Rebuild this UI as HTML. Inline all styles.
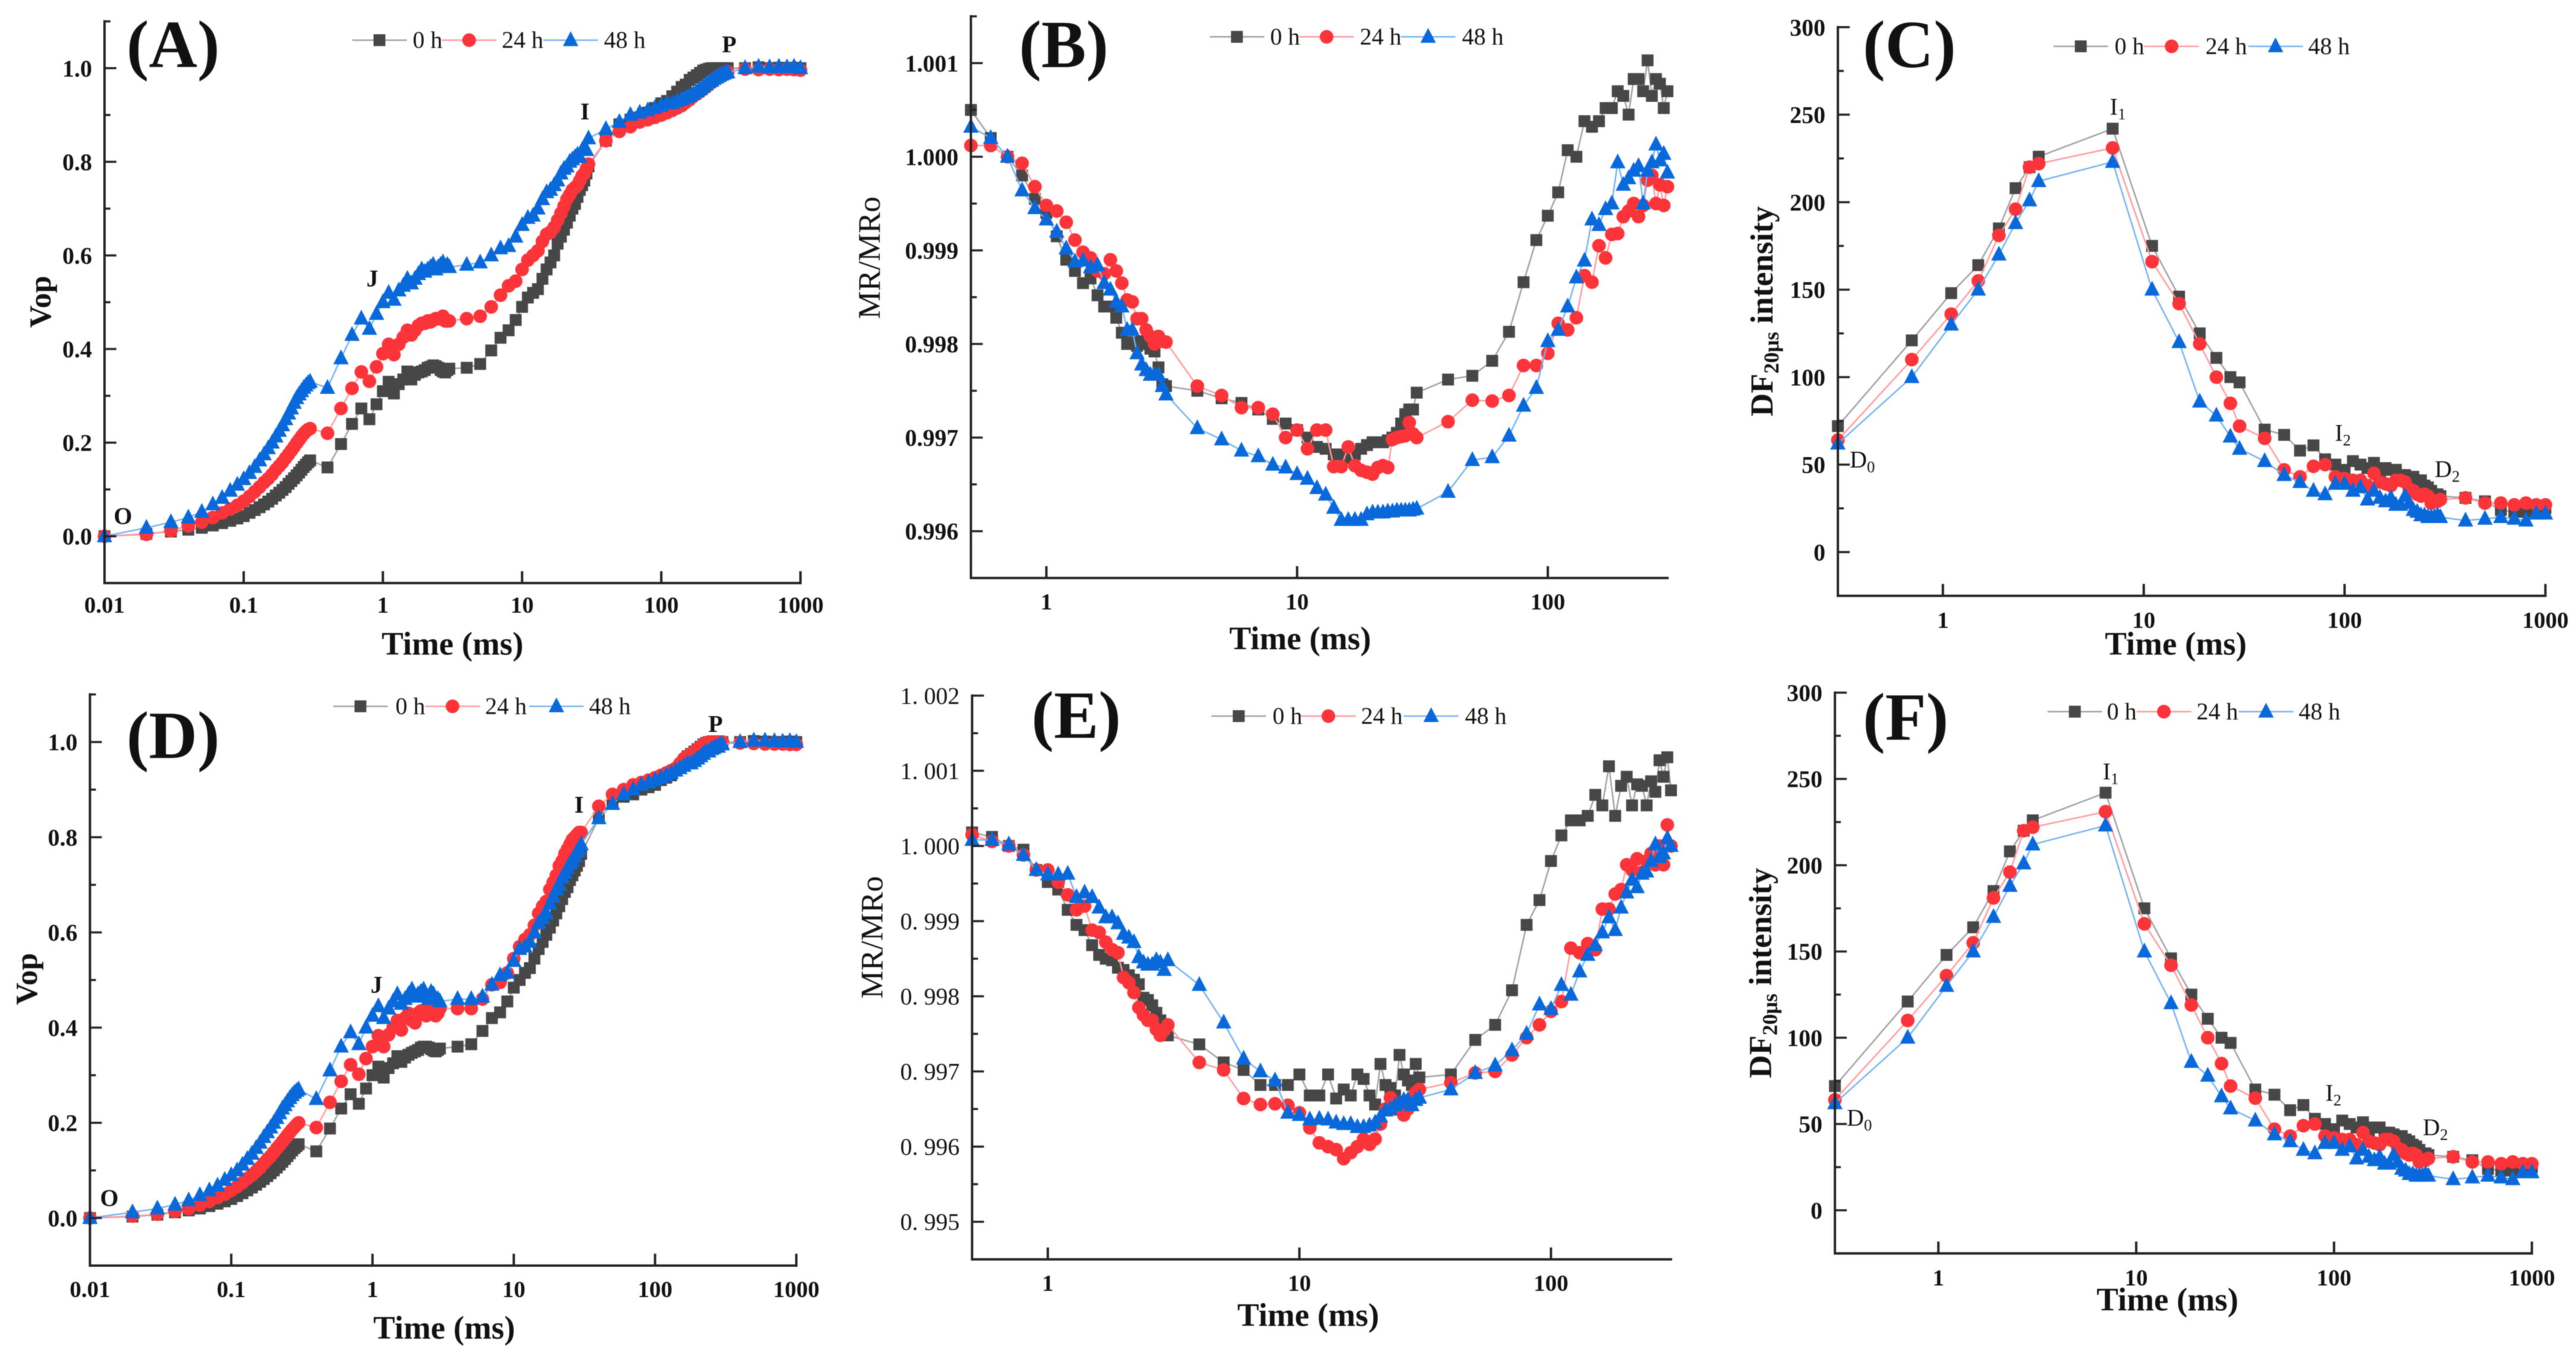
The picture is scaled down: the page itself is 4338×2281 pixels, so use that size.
<!DOCTYPE html>
<html lang="en">
<head>
<meta charset="utf-8">
<title>Six-panel chlorophyll fluorescence chart</title>
<style>
html,body{margin:0;padding:0;background:#fff;width:4338px;height:2281px;overflow:hidden}
svg{display:block;filter:blur(0.8px)}
text{font-family:"Liberation Serif","Times New Roman",serif;fill:#111}
</style>
</head>
<body>
<svg id="chart" xmlns="http://www.w3.org/2000/svg" width="4338" height="2281" viewBox="0 0 4338 2281"></svg>
<script>
/* ---------- shared time categories (ms) ---------- */
const timeOjip = [0.01,0.02,0.03,0.04,0.05,0.06,0.07,0.08,0.09,0.1,0.11,0.12,0.13,0.14,0.15,0.16,0.17,0.18,0.19,0.2,0.21,0.22,0.23,0.24,0.25,0.26,0.27,0.28,0.29,0.3,
0.4,0.5,0.6,0.7,0.8,0.9,1,1.1,1.2,1.3,1.4,1.5,1.6,1.7,1.8,1.9,2,2.1,2.2,2.3,2.4,2.5,2.6,2.7,2.8,2.9,3,
4,5,6,7,8,9,10,11,12,13,14,15,16,17,18,19,20,21,22,23,24,25,26,27,28,29,30,
40,50,60,70,80,90,100,110,120,130,140,150,160,170,180,190,200,210,220,230,240,250,260,270,280,290,300,
400,500,600,700,800,900,1000];
const timeMr = [0.5,0.6,0.7,0.8,0.9,1,1.1,1.2,1.3,1.4,1.5,1.6,1.7,1.8,1.9,2,2.1,2.2,2.3,2.4,2.5,2.6,2.7,2.8,2.9,3,
4,5,6,7,8,9,10,11,12,13,14,15,16,17,18,19,20,21,22,23,24,25,26,27,28,29,30,
40,50,60,70,80,90,100,110,120,130,140,150,160,170,180,190,200,210,220,230,240,250,260,270,280,290,300];
const timeDf = [0.3,0.7,1.1,1.5,1.9,2.3,2.7,3,7,11,15,19,23,27,30,40,50,60,70,80,90,100,110,120,130,140,150,160,170,180,190,200,210,220,230,240,250,260,270,280,290,300,400,500,600,700,800,900,1000];

/* ---------- panel A: Vop ---------- */
const vopA0 = [0,.005,.01,.014,.018,.023,.028,.033,.038,.043,.05,.056,.062,.068,.074,.08,.087,.093,.099,.105,.112,.118,.124,.13,.136,.142,.148,.153,.158,.162,
.147,.197,.24,.273,.25,.282,.31,.33,.305,.325,.335,.352,.335,.345,.35,.352,.355,.36,.362,.365,.363,.36,.355,.352,.35,.355,.358,
.36,.368,.397,.424,.44,.462,.49,.51,.52,.528,.55,.57,.585,.6,.625,.64,.655,.67,.685,.7,.71,.725,.74,.75,.76,.775,.79,
.845,.88,.89,.895,.905,.915,.925,.93,.94,.95,.96,.965,.975,.98,.985,.99,.995,.997,.999,1,1,1,1,1,1,1,1,
1,1.002,1,1.001,1,1.001,1];
const vopA24 = [0,.004,.012,.022,.03,.04,.05,.058,.066,.075,.085,.095,.105,.115,.123,.132,.142,.15,.158,.167,.175,.183,.191,.199,.206,.213,.219,.224,.228,.23,
.22,.273,.316,.351,.331,.362,.39,.41,.388,.41,.425,.44,.43,.44,.45,.455,.455,.46,.458,.462,.465,.465,.465,.47,.46,.46,.46,
.465,.47,.49,.515,.535,.545,.57,.59,.6,.61,.63,.645,.65,.66,.675,.69,.705,.72,.73,.74,.745,.75,.76,.77,.775,.785,.795,
.845,.865,.875,.885,.89,.895,.9,.905,.91,.915,.92,.927,.933,.94,.945,.95,.955,.96,.965,.97,.975,.98,.983,.986,.988,.99,.992,
.998,.997,.998,.997,.998,.997,.996];
const vopA48 = [0,.018,.03,.04,.052,.068,.082,.097,.11,.122,.135,.148,.162,.175,.188,.2,.213,.225,.237,.25,.262,.273,.285,.295,.303,.31,.317,.322,.327,.33,
.317,.38,.43,.465,.443,.475,.5,.52,.505,.525,.535,.55,.54,.55,.56,.57,.565,.57,.575,.58,.57,.575,.58,.585,.575,.58,.575,
.58,.585,.6,.615,.62,.64,.665,.68,.685,.7,.72,.735,.74,.75,.76,.775,.785,.79,.8,.805,.81,.815,.81,.825,.83,.825,.85,
.87,.885,.9,.905,.91,.915,.92,.925,.925,.93,.933,.937,.94,.945,.95,.955,.96,.965,.97,.973,.977,.98,.983,.986,.988,.99,.991,
1,1.003,1.002,1.003,1.002,1.003,1];

/* ---------- panel D: Vop ---------- */
const vopD0 = [0,.003,.007,.012,.016,.02,.025,.03,.035,.04,.046,.052,.058,.064,.07,.076,.082,.088,.094,.1,.106,.112,.118,.124,.13,.136,.142,.147,.151,.155,
.14,.188,.23,.26,.24,.272,.3,.318,.295,.315,.325,.34,.328,.337,.343,.347,.35,.353,.358,.36,.36,.358,.355,.352,.35,.353,.356,
.36,.365,.393,.42,.432,.455,.484,.5,.515,.525,.545,.565,.58,.595,.61,.625,.64,.655,.67,.685,.695,.71,.72,.73,.74,.75,.765,
.84,.87,.885,.89,.9,.905,.91,.92,.925,.93,.94,.95,.96,.97,.975,.98,.985,.99,.995,.998,1,1,1,1,1,1,1,
1,1.002,1.001,1,1,1.001,1];
const vopD24 = [0,.004,.008,.014,.02,.027,.035,.043,.05,.058,.066,.074,.083,.09,.098,.106,.115,.123,.13,.138,.146,.153,.16,.167,.174,.18,.186,.191,.196,.2,
.19,.243,.287,.322,.302,.335,.36,.383,.36,.385,.4,.415,.395,.42,.43,.415,.41,.43,.435,.435,.425,.43,.435,.43,.425,.43,.44,
.44,.44,.46,.49,.495,.515,.545,.57,.585,.595,.615,.64,.655,.665,.69,.705,.72,.74,.75,.765,.775,.785,.795,.8,.805,.81,.81,
.865,.89,.9,.91,.915,.92,.925,.93,.935,.94,.945,.955,.965,.97,.975,.98,.985,.99,.995,.998,1,1,1,1,1,1,1,
.998,.997,.996,.996,.996,.995,.995];
const vopD48 = [0,.012,.02,.028,.037,.048,.058,.068,.08,.09,.1,.112,.124,.135,.147,.158,.17,.18,.19,.2,.21,.22,.23,.237,.245,.252,.258,.263,.267,.27,
.25,.31,.36,.39,.365,.4,.425,.445,.42,.44,.455,.47,.45,.46,.47,.48,.465,.47,.475,.48,.465,.46,.475,.47,.46,.46,.455,
.46,.46,.465,.49,.51,.515,.54,.565,.57,.58,.6,.62,.63,.64,.66,.675,.69,.7,.715,.725,.735,.745,.75,.76,.77,.775,.785,
.84,.87,.89,.9,.91,.915,.92,.925,.93,.935,.94,.945,.95,.955,.955,.96,.965,.97,.975,.98,.98,.985,.987,.99,.99,.995,.995,
1,1.003,1.003,1.002,1.001,1.002,1];

/* ---------- panel B: MR/MRo ---------- */
const mrB0 = [1.0005,1.0002,1,.9998,.99955,.9994,.99915,.9989,.99878,.99865,.9987,.99852,.9984,.9984,.99828,.99812,.998,.99802,.99798,.99803,.998,.99795,.99792,.99775,.99757,.99755,
.9975,.99742,.99737,.9973,.9972,.99715,.99708,.997,.9969,.99688,.99682,.99682,.99678,.99682,.99688,.99692,.99695,.99695,.99695,.99697,.997,.99705,.99715,.99725,.9973,.9973,.99748,
.99762,.99766,.99782,.99813,.99866,.99911,.99937,.99962,1.00007,1,1.00038,1.00032,1.00038,1.00052,1.00052,1.0007,1.00065,1.00045,1.00083,1.00083,1.0007,1.00103,1.00065,1.00083,1.00078,1.00052,1.0007];
const mrB24 = [1.00012,1.00012,1,.99993,.99968,.99948,.99942,.9993,.99911,.99898,.99892,.99878,.99875,.9989,.99878,.99865,.99847,.99845,.99827,.99827,.99815,.99808,.998,.99808,.99803,.99802,
.99755,.99745,.99732,.99732,.99725,.997,.99708,.99688,.99708,.99708,.99669,.99669,.9969,.9967,.99665,.99663,.99661,.99668,.9967,.99668,.99698,.997,.99701,.99702,.99716,.99704,.997,
.99717,.9974,.99739,.99745,.99777,.99777,.9979,.99822,.99815,.99828,.99873,.99866,.99905,.99892,.99917,.99918,.99936,.99942,.9995,.99936,.99948,.99975,.9998,.9995,.9997,.99948,.99968];
const mrB48 = [1.00032,1.0002,1,.99964,.99945,.99933,.9992,.99902,.99888,.99889,.99882,.99884,.99865,.99858,.99845,.9984,.99815,.99815,.9979,.99778,.99772,.99767,.99767,.99767,.99755,.99746,
.9971,.99698,.99686,.9968,.99671,.99668,.99661,.99656,.99646,.99639,.99625,.99612,.99612,.99612,.99612,.99618,.9962,.9962,.9962,.99621,.99621,.99622,.99622,.99622,.99622,.99623,.99624,
.99642,.99676,.99679,.99702,.99734,.99753,.99803,.99815,.9984,.99871,.99889,.99933,.99927,.99944,.9995,.99994,.9997,.99977,.99985,.9999,.9995,.99985,.99994,1.00013,.99996,1.00003,.99983];

/* ---------- panel E: MR/MRo ---------- */
const mrE0 = [1.00018,1.00012,1,.99995,.99968,.99952,.99942,.99915,.99895,.99888,.99868,.99855,.9985,.99848,.99838,.99835,.99828,.99822,.99816,.99798,.99795,.99788,.99778,.99768,.99758,.99748,
.99736,.99712,.99702,.99682,.99682,.99682,.99696,.99668,.99668,.99696,.99664,.99676,.99668,.99696,.9969,.99668,.99656,.9971,.99682,.99678,.99668,.99722,.99696,.99688,.99682,.9971,.99692,
.99696,.99742,.99762,.99808,.99895,.99928,.9998,1.00014,1.00034,1.00034,1.0004,1.00068,1.00054,1.00106,1.0004,1.0008,1.00092,1.00054,1.00082,1.0008,1.00054,1.00086,1.00072,1.00114,1.00092,1.00118,1.00074];
const mrE24 = [1.00015,1.00006,1,.99988,.99968,.99968,.99952,.99935,.99915,.9992,.99888,.99885,.99872,.99862,.99858,.99825,.99818,.99805,.99785,.99775,.99768,.99768,.99756,.99748,.99755,.99762,
.99712,.99702,.99664,.99656,.99657,.99655,.99645,.99625,.99605,.996,.99596,.99584,.99592,.996,.9961,.99603,.9961,.9963,.9965,.99665,.9965,.9965,.99642,.9965,.99665,.99672,.99676,
.99685,.99698,.997,.99722,.99745,.99762,.9978,.99793,.99864,.99858,.9987,.99862,.99916,.99916,.99936,.99942,.99975,.99968,.99983,.99965,.9998,.9999,.99975,1,.99975,1.00028,1];
const mrE48 = [1.00008,1.00008,1.00002,.99988,.99968,.99962,.99962,.99963,.99932,.99938,.99932,.99918,.99905,.99905,.99897,.99883,.99878,.99872,.99852,.99845,.99842,.99842,.99848,.99845,.99835,.99848,
.99815,.99765,.99717,.997,.99688,.99645,.99642,.99636,.99637,.99636,.99632,.9963,.9963,.99626,.99626,.99628,.99632,.9964,.99648,.9965,.99655,.99658,.99662,.99662,.99655,.99662,.99665,
.99676,.99698,.99708,.99728,.9975,.99789,.99783,.99815,.99802,.99833,.99855,.99868,.99885,.99905,.99888,.99918,.99938,.99955,.99945,.99963,.99966,.9998,1.00002,.99985,.9999,1.0001,1];

/* ---------- panels C and F: DF intensity ---------- */
const dfC0 = [72,121,148,164,185,208,220,226,242,175,146,125,111,100,97,70,67,58,61,53,50,47,52,50,48,51,46,48,47,47,44,44,43,43,41,41,38,37,35,33,33,32,31,29,24,23,23,24,25];
const dfC24 = [64,110,136,155,181,196,220,222,231,166,142,119,100,85,72,65,47,43,49,50,43,42,41,41,38,45,40,39,38,41,41,40,36,35,33,32,33,32,28,29,29,30,31,28,28,27,28,27,27];
const dfC48 = [62,100,130,150,170,188,201,212,223,150,120,86,78,66,59,52,44,40,35,33,39,39,35,37,30,35,31,29,31,27,27,32,28,24,23,21,21,20,20,20,21,20,18,19,20,19,18,22,22];
const dfF0 = [72,121,148,164,185,208,220,226,242,175,146,125,111,100,97,70,67,58,61,53,50,47,52,50,48,51,46,48,48,45,45,44,43,43,41,40,38,37,35,33,33,32,31,29,24,23,23,24,25];
const dfF24 = [64,110,136,155,181,196,220,222,231,166,142,119,100,85,72,65,47,43,49,50,43,42,41,41,38,45,40,39,38,41,41,40,36,35,33,32,33,32,28,29,29,30,31,28,28,27,28,27,27];
const dfF48 = [62,100,130,150,170,188,201,212,223,150,120,86,78,66,59,52,44,40,35,33,39,39,35,37,30,35,31,29,31,27,27,32,28,24,23,21,21,20,20,20,21,20,18,19,20,19,18,22,22];

/* ---------- tick labels and legend labels ---------- */
const ticksVopX = [0.01,0.1,1,10,100,1000];
const ticksMrX = [1,10,100];
const ticksDfX = [1,10,100,1000];
const ticksVopY = ["0.0","0.2","0.4","0.6","0.8","1.0"];
const ticksMrBY = ["0.996","0.997","0.998","0.999","1.000","1.001"];
const ticksMrEY = ["0. 995","0. 996","0. 997","0. 998","0. 999","1. 000","1. 001","1. 002"];
const ticksDfY = ["0","50","100","150","200","250","300"];
const seriesLabels = ["0 h","24 h","48 h"];

/* ---------- styling ---------- */
const NS = "http://www.w3.org/2000/svg";
const svg = document.getElementById("chart");
const markerColors = ["#474747","#fb3439","#0a69da"];
const lineColors = ["#a0a0a0","#ff9a9c","#74b2f0"];
const seriesKeys = ["0h","24h","48h"];

const panels = [
 {id:"a",letter:"(A)",lx:213,ly:113,
  left:176,right:1348,top:36,bottom:981.5,xMin:0.01,xMax:1000,yMin:-0.1,yMax:1.1,
  time:timeOjip,series:[vopA0,vopA24,vopA48],xTicks:ticksVopX,yTicks:ticksVopY,
  minorStep:0.1,xTickDy:50,bold:true,
  xTitleX:762,xTitleY:1102,yTitle:"Vop",yTitleX:85,yTitleY:508,yTitleBold:true,yTitleSize:52,
  legX:[639,790,961],legTx:[695,845,1017],legY:67.6,endTick:true,
  notes:[["O",207,882],["J",627,482],["I",985,201],["P",1228,88]],noteBold:true},
 {id:"b",letter:"(B)",lx:1716,ly:113,
  left:1635,right:2808,top:27.5,bottom:973,xMin:0.5,xMax:300,yMin:0.9955,yMax:1.0015,
  time:timeMr,series:[mrB0,mrB24,mrB48],xTicks:ticksMrX,yTicks:ticksMrBY,
  minorStep:0.0005,xTickDy:53,bold:true,
  xTitleX:2189.5,xTitleY:1093,yTitle:"MR/MRo",yTitleX:1481.5,yTitleY:434,yTitleBold:false,yTitleSize:53,
  legX:[2083,2234,2405],legTx:[2139,2290,2462],legY:62,endTick:false,notes:[],noteBold:true},
 {id:"c",letter:"(C)",lx:3137,ly:113,
  left:3095,right:4286.5,top:45.8,bottom:1003,xMin:0.3,xMax:1000,yMin:-25,yMax:300,
  time:timeDf,series:[dfC0,dfC24,dfC48],xTicks:ticksDfX,yTicks:ticksDfY,
  minorStep:25,xTickDy:54,bold:true,
  xTitleX:3664,xTitleY:1102,yTitle:"DF",yTitleX:2985,yTitleY:524,yTitleBold:true,yTitleSize:54,df:true,
  legX:[3504,3657,3832],legTx:[3561,3714,3887],legY:78,endTick:true,
  notes:[["I",3553,193,"1"],["I",3932,742,"2"],["D",3115,787,"0"],["D",4100,803,"2"]],noteBold:false},
 {id:"d",letter:"(D)",lx:213,ly:1276,
  left:151.5,right:1341,top:1169,bottom:2130.5,xMin:0.01,xMax:1000,yMin:-0.1,yMax:1.1,
  time:timeOjip,series:[vopD0,vopD24,vopD48],xTicks:ticksVopX,yTicks:ticksVopY,
  minorStep:0.1,xTickDy:53,bold:true,
  xTitleX:748,xTitleY:2253.5,yTitle:"Vop",yTitleX:62,yTitleY:1648,yTitleBold:true,yTitleSize:52,
  legX:[607,762,937],legTx:[666,817,992],legY:1189,endTick:true,
  notes:[["O",184,2030],["J",634,1671],["I",975,1368],["P",1205,1232]],noteBold:true},
 {id:"e",letter:"(E)",lx:1737,ly:1242,
  left:1637,right:2814,top:1171,bottom:2120,xMin:0.5,xMax:300,yMin:0.9945,yMax:1.002,
  time:timeMr,series:[mrE0,mrE24,mrE48],xTicks:ticksMrX,yTicks:ticksMrEY,
  minorStep:0.0005,xTickDy:53,bold:false,
  xTitleX:2203,xTitleY:2232,yTitle:"MR/MRo",yTitleX:1486,yTitleY:1578,yTitleBold:false,yTitleSize:53,
  legX:[2086,2237,2410],legTx:[2143,2292,2467],legY:1205.5,endTick:false,notes:[],noteBold:true},
 {id:"f",letter:"(F)",lx:3137,ly:1245,
  left:3090,right:4263.7,top:1166,bottom:2110,xMin:0.3,xMax:1000,yMin:-25,yMax:300,
  time:timeDf,series:[dfF0,dfF24,dfF48],xTicks:ticksDfX,yTicks:ticksDfY,
  minorStep:25,xTickDy:54,bold:true,
  xTitleX:3650,xTitleY:2206,yTitle:"DF",yTitleX:2982.6,yTitleY:1638,yTitleBold:true,yTitleSize:54,df:true,
  legX:[3494,3644,3816],legTx:[3548,3699,3871],legY:1198,endTick:true,
  notes:[["I",3541,1312,"1"],["I",3916,1853,"2"],["D",3110,1895,"0"],["D",4080,1911,"2"]],noteBold:false}
];

function xScale(p, v) {
  const a = Math.log10(p.xMin), b = Math.log10(p.xMax);
  return p.left + (Math.log10(v) - a) / (b - a) * (p.right - p.left);
}
function yScale(p, v) {
  return p.bottom - (v - p.yMin) / (p.yMax - p.yMin) * (p.bottom - p.top);
}
function addLine(parent, x1, y1, x2, y2, color, width) {
  const l = document.createElementNS(NS, "line");
  l.setAttribute("x1", x1);
  l.setAttribute("y1", y1);
  l.setAttribute("x2", x2);
  l.setAttribute("y2", y2);
  l.setAttribute("stroke", color);
  l.setAttribute("stroke-width", width);
  parent.appendChild(l);
  return l;
}
function addText(parent, str, x, y, size, weight, anchor) {
  const t = document.createElementNS(NS, "text");
  t.setAttribute("x", x);
  t.setAttribute("y", y);
  t.setAttribute("font-size", size);
  t.setAttribute("font-weight", weight);
  t.setAttribute("text-anchor", anchor);
  t.textContent = str;
  parent.appendChild(t);
  return t;
}
function addMarker(parent, s, x, y) {
  let m;
  if (s === 0) {
    m = document.createElementNS(NS, "rect");
    m.setAttribute("x", x - 10);
    m.setAttribute("y", y - 10);
    m.setAttribute("width", 20);
    m.setAttribute("height", 20);
  } else if (s === 1) {
    m = document.createElementNS(NS, "circle");
    m.setAttribute("cx", x);
    m.setAttribute("cy", y);
    m.setAttribute("r", 11.5);
  } else {
    m = document.createElementNS(NS, "polygon");
    m.setAttribute("points", x + "," + (y - 15) + " " + (x + 13) + "," + (y + 10) + " " + (x - 13) + "," + (y + 10));
  }
  m.setAttribute("fill", markerColors[s]);
  parent.appendChild(m);
  return m;
}

panels.forEach(function (p) {
  const g = document.createElementNS(NS, "g");
  
  
  svg.appendChild(g);

  /* series */
  p.series.forEach(function (vals, s) {
    const sg = document.createElementNS(NS, "g");
    
    
    g.appendChild(sg);
    const n = Math.min(vals.length, p.time.length);
    let pts = "";
    for (let i = 0; i < n; i++) {
      pts += xScale(p, p.time[i]).toFixed(1) + "," + yScale(p, vals[i]).toFixed(1) + " ";
    }
    const line = document.createElementNS(NS, "polyline");
    
    
    line.setAttribute("points", pts);
    line.setAttribute("fill", "none");
    line.setAttribute("stroke", lineColors[s]);
    line.setAttribute("stroke-width", 2.5);
    sg.appendChild(line);
    for (let i = 0; i < n; i++) {
      const mk = addMarker(sg, s, xScale(p, p.time[i]), yScale(p, vals[i]));
      
      
    }
  });

  /* axes */
  const yAxis = addLine(g, p.left, p.top - 2, p.left, p.bottom + 2, "#222", 4);
  
  
  const xAxis = addLine(g, p.left - 2, p.bottom, p.right + 2, p.bottom, "#222", 4);
  
  

  /* x ticks */
  p.xTicks.forEach(function (v) {
    const x = xScale(p, v);
    if (v !== p.xMin) {
      const tk = addLine(g, x, p.bottom, x, p.bottom - 20, "#222", 4);
      
      
    }
    const lb = addText(g, String(v), x, p.bottom + p.xTickDy, 39, "bold", "middle");
    
    
  });

  /* y ticks */
  p.yTicks.forEach(function (label) {
    const v = parseFloat(label.replace(/\s/g, ""));
    const y = yScale(p, v);
    const tk = addLine(g, p.left, y, p.left + 20, y, "#222", 3.5);
    
    
    const lb = addText(g, label, p.left - 21, y + 14, 40, p.bold ? "bold" : "normal", "end");
    
    
    const above = v + p.minorStep;
    if (above <= p.yMax + 1e-9) {
      const mt = addLine(g, p.left, yScale(p, above), p.left + 10, yScale(p, above), "#222", 3.5);
      
      
    }
    const below = v - p.minorStep;
    if (below >= p.yMin - 1e-9 && p.yTicks[0] === label) {
      const mb = addLine(g, p.left, yScale(p, below), p.left + 10, yScale(p, below), "#222", 3.5);
      
      
    }
  });

  /* axis titles */
  const xt = addText(g, "Time (ms)", p.xTitleX, p.xTitleY, 55, "bold", "middle");
  
  

  const yt = addText(g, p.df ? "" : p.yTitle, p.yTitleX, p.yTitleY, p.yTitleSize, p.yTitleBold ? "bold" : "normal", "middle");
  yt.setAttribute("transform", "rotate(-90 " + p.yTitleX + " " + p.yTitleY + ")");
  
  
  if (p.df) {
    const t1 = document.createElementNS(NS, "tspan");
    t1.textContent = "DF";
    yt.appendChild(t1);
    const t2 = document.createElementNS(NS, "tspan");
    t2.setAttribute("font-size", 36);
    t2.setAttribute("dy", 10);
    t2.textContent = "20μs";
    yt.appendChild(t2);
    const t3 = document.createElementNS(NS, "tspan");
    t3.setAttribute("dy", -10);
    t3.textContent = " intensity";
    yt.appendChild(t3);
  }

  /* panel letter */
  const pl = addText(g, p.letter, p.lx, p.ly, 113, "bold", "start");
  
  

  /* legend */
  const lg = document.createElementNS(NS, "g");
  
  
  g.appendChild(lg);
  seriesLabels.forEach(function (label, s) {
    const mx = p.legX[s];
    const ll = addLine(lg, mx - 46, p.legY, mx + 46, p.legY, lineColors[s], 2.5);
    
    
    const lm = addMarker(lg, s, mx, p.legY);
    
    
    const lt = addText(lg, label, p.legTx[s], p.legY + 13, 40, "normal", "start");
    
    
  });

  /* annotations */
  p.notes.forEach(function (n) {
    const t = addText(g, n[0], n[1], n[2], 40, p.noteBold ? "bold" : "normal", p.noteBold ? "middle" : "start");
    
    
    if (n[3]) {
      const sub = document.createElementNS(NS, "tspan");
      sub.setAttribute("font-size", 27);
      sub.setAttribute("dy", 8);
      sub.textContent = n[3];
      t.appendChild(sub);
    }
  });
});
</script>
</body>
</html>
